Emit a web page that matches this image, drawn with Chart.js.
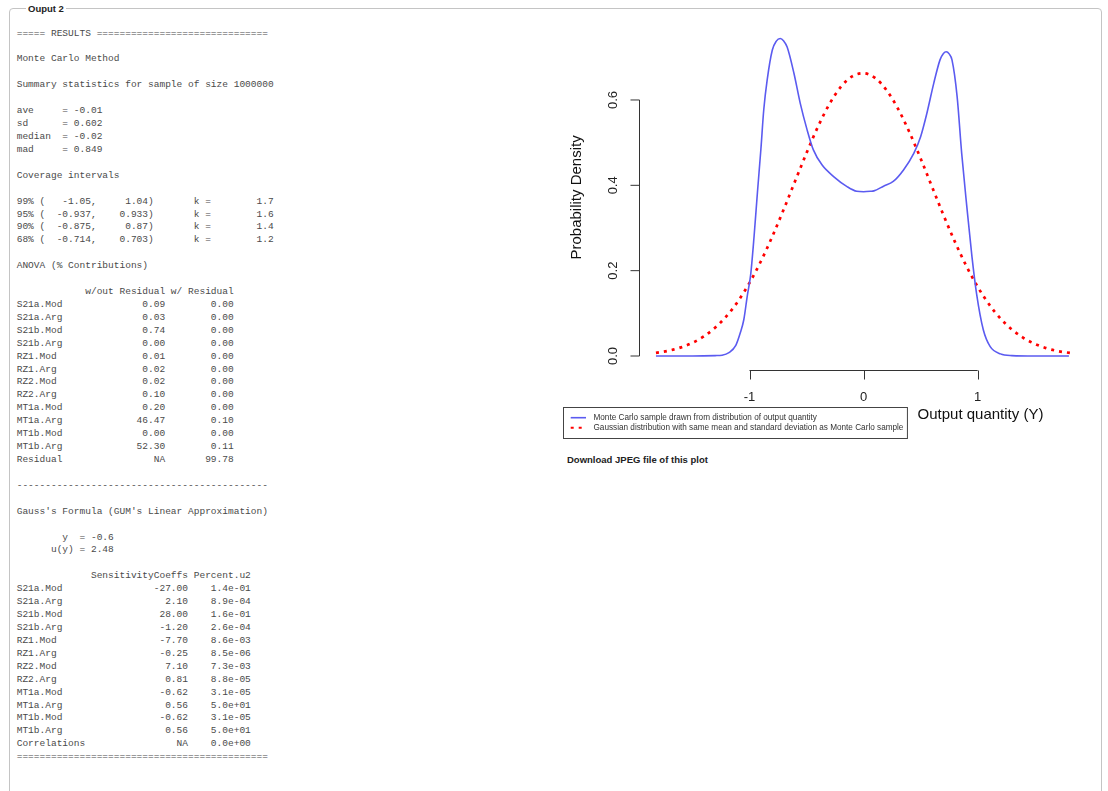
<!DOCTYPE html>
<html>
<head>
<meta charset="utf-8">
<title>Ouput 2</title>
<script src="https://cdn.jsdelivr.net/npm/chart.js@4.4.1/dist/chart.umd.min.js"></script>
<style>
  body { margin: 0; background: #fff; width: 1108px; height: 791px; overflow: hidden; position: relative; }
  .box { position: absolute; left: 9px; top: 8px; width: 1091px; height: 820px; border: 1px solid #c4c4c4; border-radius: 4px; }
  .box-title { position: absolute; left: 26px; top: 3px; background: #fff; padding: 0 2px; font: bold 9.5px "Liberation Sans", Arial, sans-serif; color: #222; line-height: 11px; }
  #results { position: absolute; left: 16.7px; top: 27.6px; margin: 0; font: 9.53px/12.92px "Liberation Mono", monospace; color: #4a4a4a; }
  #plot { position: absolute; left: 556px; top: 20px; }
  .download { position: absolute; left: 567px; top: 454px; font: bold 9.5px "Liberation Sans", Arial, sans-serif; color: #222; line-height: 12px; }
</style>
</head>
<body>
<div class="box"></div>
<div class="box-title">Ouput 2</div>
<pre id="results"></pre>
<canvas id="plot" width="544" height="430"></canvas>
<div class="download">Download JPEG file of this plot</div>
<script>
// monte carlo density
const mcX = [-1.82, -1.50, -1.30, -1.24, -1.18, -1.12, -1.08, -1.05, -1.02, -0.99, -0.96, -0.93, -0.90,
  -0.875, -0.845, -0.80, -0.765, -0.73, -0.70, -0.67, -0.61, -0.555, -0.495, -0.44, -0.365, -0.26,
  -0.145, -0.06, 0.0, 0.06, 0.09, 0.175, 0.26, 0.35, 0.44, 0.50, 0.555, 0.615, 0.67, 0.70, 0.725,
  0.75, 0.775, 0.82, 0.86, 0.905, 0.95, 0.99, 1.05, 1.11, 1.20, 1.30, 1.50, 1.80]
const mcY = [0.000, 0.000, 0.001, 0.002, 0.008, 0.025, 0.055, 0.085, 0.140, 0.190, 0.280, 0.385, 0.485,
  0.577, 0.647, 0.717, 0.738, 0.744, 0.738, 0.724, 0.662, 0.592, 0.530, 0.483, 0.448, 0.420,
  0.397, 0.386, 0.385, 0.386, 0.387, 0.398, 0.409, 0.436, 0.475, 0.514, 0.569, 0.639, 0.694, 0.709, 0.713,
  0.708, 0.694, 0.608, 0.475, 0.350, 0.233, 0.147, 0.061, 0.022, 0.005, 0.001, 0.000, 0.000]

// gaussian with same mean / sd
const gaussX = [-1.82, -1.7, -1.6, -1.5, -1.4, -1.3, -1.2, -1.1, -1.0, -0.9, -0.8, -0.7, -0.6, -0.5, -0.4,
  -0.3, -0.2, -0.1, 0.0, 0.1, 0.2, 0.3, 0.4, 0.5, 0.6, 0.7, 0.8, 0.9, 1.0, 1.1, 1.2, 1.3, 1.4, 1.5,
  1.6, 1.7, 1.82]
const gaussY = [0.0075, 0.0129, 0.0203, 0.0310, 0.0461, 0.0667, 0.0939, 0.1286, 0.1714, 0.2221, 0.2801,
  0.3436, 0.4099, 0.4758, 0.5373, 0.5901, 0.6305, 0.6553, 0.6626, 0.6517, 0.6236, 0.5804, 0.5255,
  0.4629, 0.3966, 0.3305, 0.2680, 0.2114, 0.1622, 0.1211, 0.0879, 0.0621, 0.0427, 0.0285, 0.0185,
  0.0117, 0.0068]

const xTicks = [-1, 0, 1]
const yTicks = [0, 0.2, 0.4, 0.6]
const seriesLabels = ['Monte Carlo sample drawn from distribution of output quantity',
  'Gaussian distribution with same mean and standard deviation as Monte Carlo sample']

// text output
const anovaRows = ['S21a.Mod', 'S21a.Arg', 'S21b.Mod', 'S21b.Arg', 'RZ1.Mod', 'RZ1.Arg', 'RZ2.Mod',
  'RZ2.Arg', 'MT1a.Mod', 'MT1a.Arg', 'MT1b.Mod', 'MT1b.Arg', 'Residual']
const anovaWithout = ['0.09', '0.03', '0.74', '0.00', '0.01', '0.02', '0.02', '0.10', '0.20', '46.47',
  '0.00', '52.30', 'NA']
const anovaWith = ['0.00', '0.00', '0.00', '0.00', '0.00', '0.00', '0.00', '0.00', '0.00', '0.10',
  '0.00', '0.11', '99.78']
const sensRows = ['S21a.Mod', 'S21a.Arg', 'S21b.Mod', 'S21b.Arg', 'RZ1.Mod', 'RZ1.Arg', 'RZ2.Mod',
  'RZ2.Arg', 'MT1a.Mod', 'MT1a.Arg', 'MT1b.Mod', 'MT1b.Arg', 'Correlations']
const sensCoeffs = ['-27.00', '2.10', '28.00', '-1.20', '-7.70', '-0.25', '7.10', '0.81', '-0.62',
  '0.56', '-0.62', '0.56', 'NA']
const sensPercent = ['1.4e-01', '8.9e-04', '1.6e-01', '2.6e-04', '8.6e-03', '8.5e-06', '7.3e-03',
  '8.8e-05', '3.1e-05', '5.0e+01', '3.1e-05', '5.0e+01', '0.0e+00']

// build results text
const lines = [
  '===== RESULTS ' + '='.repeat(30),
  '',
  'Monte Carlo Method',
  '',
  'Summary statistics for sample of size 1000000',
  '',
  'ave     = -0.01',
  'sd      = 0.602',
  'median  = -0.02',
  'mad     = 0.849',
  '',
  'Coverage intervals',
  '',
  '99% (   -1.05,     1.04)       k =        1.7',
  '95% (  -0.937,    0.933)       k =        1.6',
  '90% (  -0.875,     0.87)       k =        1.4',
  '68% (  -0.714,    0.703)       k =        1.2',
  '',
  'ANOVA (% Contributions)',
  '',
  'w/out Residual'.padStart(26) + ' w/ Residual'
]
anovaRows.forEach((r, i) => {
  lines.push(r.padEnd(8) + anovaWithout[i].padStart(18) + anovaWith[i].padStart(12))
})
lines.push('', '-'.repeat(44), '', "Gauss's Formula (GUM's Linear Approximation)", '',
  '        y  = -0.6', '      u(y) = 2.48', '',
  ' '.repeat(12) + 'SensitivityCoeffs'.padStart(18) + 'Percent.u2'.padStart(11))
sensRows.forEach((r, i) => {
  lines.push(r.padEnd(12) + sensCoeffs[i].padStart(18) + sensPercent[i].padStart(11))
})
lines.push('='.repeat(44))
document.getElementById('results').textContent = lines.join('\n')

// R style axes, labels and legend
const rPlot = {
  id: 'rPlot',
  afterDraw(chart) {
    const {ctx, chartArea: a, scales: {x, y}} = chart
    const sans = '"Liberation Sans", Arial, sans-serif'
    ctx.save()
    ctx.strokeStyle = '#333'
    ctx.fillStyle = '#222'
    ctx.lineWidth = 1

    // y axis
    const ax = Math.round(a.left) + 0.5
    ctx.beginPath()
    ctx.moveTo(ax, y.getPixelForValue(yTicks[0]))
    ctx.lineTo(ax, y.getPixelForValue(yTicks[yTicks.length - 1]))
    yTicks.forEach(t => {
      const p = y.getPixelForValue(t)
      ctx.moveTo(ax, p)
      ctx.lineTo(ax - 9, p)
    })
    ctx.stroke()
    ctx.font = '13px ' + sans
    ctx.textAlign = 'center'
    ctx.textBaseline = 'middle'
    yTicks.forEach(t => {
      ctx.save()
      ctx.translate(ax - 26, y.getPixelForValue(t))
      ctx.rotate(-Math.PI / 2)
      ctx.fillText(t.toFixed(1), 0, 0)
      ctx.restore()
    })

    // x axis
    const ay = Math.round(a.bottom) + 0.5
    ctx.beginPath()
    ctx.moveTo(x.getPixelForValue(xTicks[0]), ay)
    ctx.lineTo(x.getPixelForValue(xTicks[xTicks.length - 1]), ay)
    xTicks.forEach(t => {
      const p = Math.round(x.getPixelForValue(t)) + 0.5
      ctx.moveTo(p, ay)
      ctx.lineTo(p, ay + 9)
    })
    ctx.stroke()
    xTicks.forEach(t => ctx.fillText(String(t), x.getPixelForValue(t), ay + 27))

    // axis titles
    ctx.fillStyle = '#111'
    ctx.font = '15px ' + sans
    ctx.save()
    ctx.translate(21, (a.top + a.bottom) / 2)
    ctx.rotate(-Math.PI / 2)
    ctx.fillText('Probability Density', 0, 0)
    ctx.restore()
    ctx.fillText('Output quantity (Y)', 424.5, 395)

    // legend
    ctx.font = '8.2px ' + sans
    ctx.textAlign = 'left'
    const textX = 37.5
    let w = 0
    chart.data.datasets.forEach(ds => { w = Math.max(w, ctx.measureText(ds.label).width) })
    ctx.strokeStyle = '#444'
    ctx.strokeRect(7.5, 387.5, textX + w + 4 - 7.5, 31)
    chart.data.datasets.forEach((ds, i) => {
      const ly = 397.7 + i * 10
      ctx.save()
      ctx.strokeStyle = ds.borderColor
      ctx.lineWidth = Math.min(ds.borderWidth, 2)
      ctx.setLineDash(ds.borderDash || [])
      ctx.beginPath()
      ctx.moveTo(14.7, ly)
      ctx.lineTo(30, ly)
      ctx.stroke()
      ctx.restore()
      ctx.fillStyle = '#333'
      ctx.fillText(ds.label, textX, ly)
    })
    ctx.restore()
  }
}

new Chart(document.getElementById('plot'), {
  type: 'line',
  data: {
    datasets: [{
      label: seriesLabels[0],
      data: mcX.map((v, i) => ({x: v, y: mcY[i]})),
      borderColor: '#5b5bf0',
      borderWidth: 1.6,
      cubicInterpolationMode: 'monotone',
      fill: false
    }, {
      label: seriesLabels[1],
      data: gaussX.map((v, i) => ({x: v, y: gaussY[i]})),
      borderColor: '#ff0000',
      borderWidth: 2.7,
      borderDash: [3, 5],
      cubicInterpolationMode: 'monotone',
      fill: false
    }]
  },
  options: {
    responsive: false,
    animation: false,
    layout: {padding: {left: 83.3, right: 11, top: 5.3, bottom: 80.5}},
    elements: {point: {radius: 0}},
    plugins: {legend: {display: false}, tooltip: {enabled: false}},
    scales: {
      x: {type: 'linear', min: -1.966, max: 1.976, display: false},
      y: {min: -0.0316, max: 0.775, display: false}
    }
  },
  plugins: [rPlot]
})
</script>
</body>
</html>
